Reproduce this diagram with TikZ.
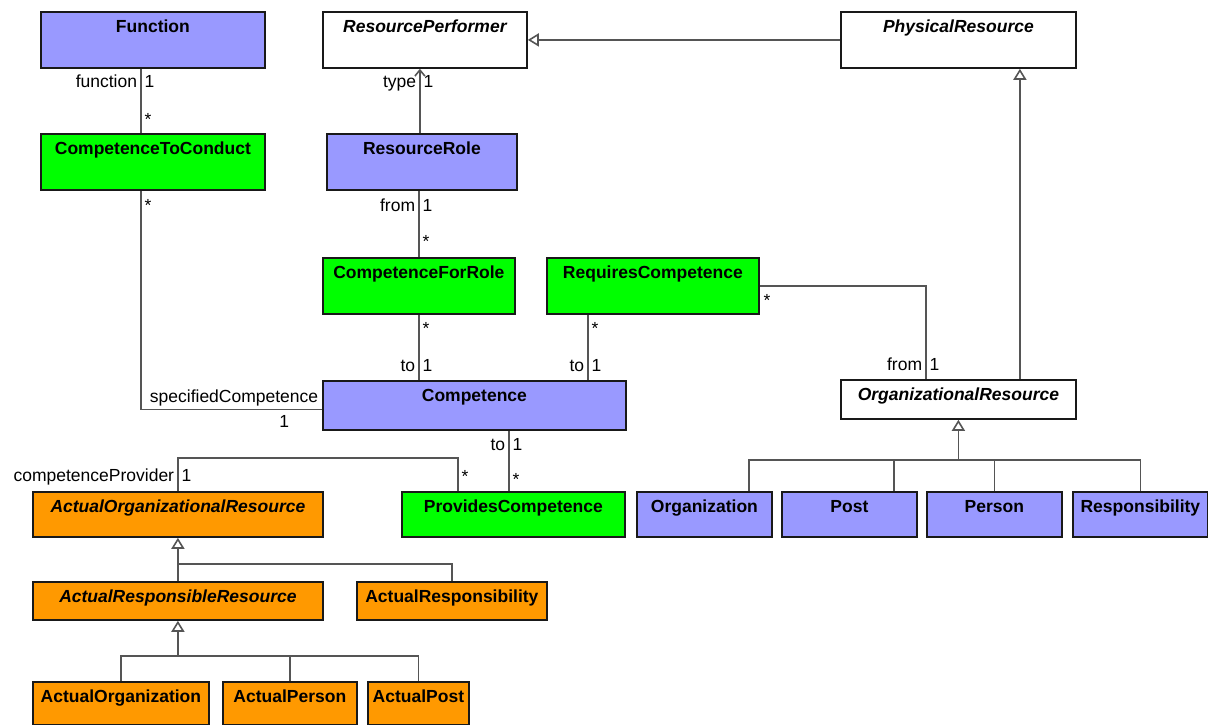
\documentclass[tikz,border=0pt]{standalone}
\usepackage{fontspec}
\setmainfont{Liberation Sans}
\usetikzlibrary{arrows.meta}

\definecolor{fnblue}{HTML}{9999FF}
\definecolor{relgreen}{HTML}{00FF00}
\definecolor{actorange}{HTML}{FF9900}
\definecolor{linegray}{HTML}{555555}

\begin{document}
\begin{tikzpicture}[
    x=1pt, y=1pt,
    every node/.style={font=\fontsize{17.5}{20}\selectfont},
    %% UML class box, name at the top
    cls/.style={
        draw=black!90, line width=1.8pt, rectangle, anchor=north west,
        inner sep=0pt, text height=21pt,
        font=\fontsize{17.5}{20}\selectfont\bfseries
    },
    %% Abstract class (italic name)
    abstract/.style={font=\fontsize{17.5}{20}\selectfont\bfseries\itshape},
    %% Association line
    assoc/.style={draw=linegray, line width=1.6pt},
    %% Generalization (hollow triangle)
    gen/.style={assoc, -{Triangle[open, length=11pt, width=13pt]}},
    %% Navigable end (open arrow)
    nav/.style={assoc, -{Straight Barb[length=6pt, width=10pt]}},
    %% Role name / multiplicity
    mult/.style={inner sep=3pt, text height=13pt, text depth=4pt, yshift=-1pt}
]
\useasboundingbox (0,0) rectangle (1208,-724);

%% ══════════════════════════════════════════════════════════════════
%% Classes
%% ══════════════════════════════════════════════════════════════════
\node[cls, fill=fnblue, minimum width=224pt, text depth=35pt] (function) at (40,-11) {Function};
\node[cls, abstract, fill=white, minimum width=204pt, text depth=35pt] (perf) at (322,-11) {ResourcePerformer};
\node[cls, abstract, fill=white, minimum width=235pt, text depth=35pt] (phys) at (840,-11) {PhysicalResource};

\node[cls, fill=relgreen, minimum width=224pt, text depth=35pt] (ctc) at (40,-133) {CompetenceToConduct};
\node[cls, fill=fnblue, minimum width=190pt, text depth=35pt] (role) at (326,-133) {ResourceRole};

\node[cls, fill=relgreen, minimum width=192pt, text depth=35pt] (cfr) at (322,-257) {CompetenceForRole};
\node[cls, fill=relgreen, minimum width=212pt, text depth=35pt] (reqc) at (546,-257) {RequiresCompetence};

\node[cls, fill=fnblue, minimum width=303pt, text depth=28pt] (comp) at (322,-380) {Competence};
\node[cls, abstract, fill=white, minimum width=235pt, text depth=18pt] (orgres) at (840,-379) {OrganizationalResource};

\node[cls, abstract, fill=actorange, minimum width=290pt, text depth=24pt] (aor) at (32,-491) {ActualOrganizationalResource};
\node[cls, fill=relgreen, minimum width=223pt, text depth=24pt] (provc) at (401,-491) {ProvidesCompetence};

%% Subclasses of OrganizationalResource
\foreach \n/\x/\t in {org/636/Organization, post/781/Post, person/926/Person, resp/1072/Responsibility} {
    \node[cls, fill=fnblue, minimum width=135pt, text depth=24pt] (\n) at (\x,-491) {\t};
}

\node[cls, abstract, fill=actorange, minimum width=290pt, text depth=17pt] (arr) at (32,-581) {ActualResponsibleResource};
\node[cls, fill=actorange, minimum width=190pt, text depth=17pt] (aresp) at (356,-581) {ActualResponsibility};

\node[cls, fill=actorange, minimum width=176pt, text depth=22pt] (aorg) at (32,-681) {ActualOrganization};
\node[cls, fill=actorange, minimum width=134pt, text depth=22pt] (aperson) at (222,-681) {ActualPerson};
\node[cls, fill=actorange, minimum width=101pt, text depth=22pt] (apost) at (367,-681) {ActualPost};

%% ══════════════════════════════════════════════════════════════════
%% Associations
%% ══════════════════════════════════════════════════════════════════
\draw[assoc] ([xshift=-12pt]function.south) -- ([xshift=-12pt]ctc.north)
    node[mult, pos=.21, left] (fnrole) {function}
    node[mult, pos=.21, right] (fnone) {1}
    node[mult, pos=.79, right] (fnmany) {*};

\draw[nav] ([xshift=-2pt]role.north) -- ([xshift=-2pt]role.north |- perf.south)
    node[mult, pos=.79, left] (typerole) {type}
    node[mult, pos=.79, right] (typeone) {1};

\draw[assoc] ([xshift=-3pt]role.south) -- ([xshift=-3pt]role.south |- cfr.north)
    node[mult, pos=.235, left] (fromrole) {from}
    node[mult, pos=.235, right] (fromone) {1}
    node[mult, pos=.78, right] (frommany) {*};

\draw[assoc] (cfr.south) -- (cfr.south |- comp.north)
    node[mult, pos=.21, right] (cfrmany) {*}
    node[mult, pos=.78, left] (cfrto) {to}
    node[mult, pos=.78, right] (cfrone) {1};

\draw[assoc] ([xshift=-65pt]reqc.south) -- ([xshift=-65pt]reqc.south |- comp.north)
    node[mult, pos=.21, right] (rqmany) {*}
    node[mult, pos=.78, left] (rqto) {to}
    node[mult, pos=.78, right] (rqone) {1};

\draw[assoc] (reqc.east) -| ([xshift=-32.5pt]orgres.north)
    node[mult, pos=0, anchor=north west, yshift=-3pt] (orgmany) {*}
    node[mult, pos=.926, left] (orgfrom) {from}
    node[mult, pos=.926, right] (orgone) {1};

\draw[assoc] ([xshift=-12pt]ctc.south) |- ([yshift=-4pt]comp.west)
    node[mult, pos=.034, right] (specmany) {*}
    node[mult, pos=1, above left] (specrole) {specifiedCompetence}
    node[mult, pos=.896, below] (specone) {1};

\draw[assoc] (aor.north) -- ++(0,33)
    node[mult, pos=.45, left] (provrole) {competenceProvider}
    node[mult, pos=.45, right] (provone) {1}
    -| ([xshift=-55.5pt]provc.north)
    node[mult, pos=.79, right] (provmany) {*};

\draw[assoc] ([xshift=-4.5pt]provc.north) -- ([xshift=-4.5pt]provc.north |- comp.south)
    node[mult, pos=.18, right] (pcmany) {*}
    node[mult, pos=.76, left] (pcto) {to}
    node[mult, pos=.76, right] (pcone) {1};

%% ══════════════════════════════════════════════════════════════════
%% Generalizations
%% ══════════════════════════════════════════════════════════════════
\draw[gen] (phys.west) -- (perf.east);
\draw[gen] ([xshift=61.5pt]orgres.north) -- ([xshift=61.5pt]orgres.north |- phys.south);

\coordinate (orgjoin) at ([yshift=-40pt]orgres.south);
\draw[gen] (orgjoin) -- (orgres.south);
\foreach \n/\s in {org/44.5, post/44.5, person/0, resp/0} {
    \draw[assoc] ([xshift=\s pt]\n.north) |- (orgjoin);
}

\coordinate (aorjoin) at ([yshift=-26pt]aor.south);
\draw[gen] (arr.north) -- (aor.south);
\draw[assoc] (aresp.north) |- (aorjoin);

\coordinate (arrjoin) at ([yshift=-35pt]arr.south);
\draw[gen] (arrjoin) -- (arr.south);
\foreach \n in {aorg, aperson, apost} {
    \draw[assoc] (\n.north) |- (arrjoin);
}

\end{tikzpicture}
\end{document}
